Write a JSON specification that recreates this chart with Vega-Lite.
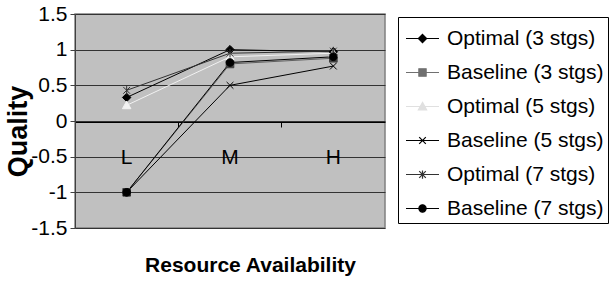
{
  "$schema": "https://vega.github.io/schema/vega-lite/v6.json",
  "width": 310,
  "height": 214,
  "autosize": "none",
  "padding": {"left": 75, "top": 14, "right": 228, "bottom": 54},
  "background": "white",
  "config": {
    "font": "Liberation Sans",
    "view": {"fill": "#c0c0c0", "stroke": "#808080", "strokeWidth": 1.5},
    "axis": {"labelFont": "Liberation Sans", "labelFontSize": 21, "labelColor": "black", "titleFont": "Liberation Sans", "titleFontSize": 21, "titleFontWeight": "bold", "titleColor": "black"}
  },
  "data": {
    "values": [
      {"series": "Optimal (3 stgs)", "level": "L", "quality": 0.33},
      {"series": "Optimal (3 stgs)", "level": "M", "quality": 1.0},
      {"series": "Optimal (3 stgs)", "level": "H", "quality": 0.97},
      {"series": "Baseline (3 stgs)", "level": "L", "quality": -1.0},
      {"series": "Baseline (3 stgs)", "level": "M", "quality": 0.8},
      {"series": "Baseline (3 stgs)", "level": "H", "quality": 0.88},
      {"series": "Optimal (5 stgs)", "level": "L", "quality": 0.22},
      {"series": "Optimal (5 stgs)", "level": "M", "quality": 0.9},
      {"series": "Optimal (5 stgs)", "level": "H", "quality": 0.95},
      {"series": "Baseline (5 stgs)", "level": "L", "quality": -1.0},
      {"series": "Baseline (5 stgs)", "level": "M", "quality": 0.5},
      {"series": "Baseline (5 stgs)", "level": "H", "quality": 0.77},
      {"series": "Optimal (7 stgs)", "level": "L", "quality": 0.43},
      {"series": "Optimal (7 stgs)", "level": "M", "quality": 0.95},
      {"series": "Optimal (7 stgs)", "level": "H", "quality": 0.98},
      {"series": "Baseline (7 stgs)", "level": "L", "quality": -1.0},
      {"series": "Baseline (7 stgs)", "level": "M", "quality": 0.82},
      {"series": "Baseline (7 stgs)", "level": "H", "quality": 0.9}
    ]
  },
  "layer": [
    {
      "mark": {"type": "line", "strokeWidth": 1},
      "encoding": {
        "x": {"field": "level", "type": "nominal", "sort": ["L", "M", "H"], "scale": {"type": "band", "paddingInner": 0, "paddingOuter": 0},
          "axis": {"orient": "bottom", "offset": -106, "domainColor": "black", "domainWidth": 1, "ticks": false, "labelPadding": 24, "labelAngle": 0, "grid": false, "title": "Resource Availability", "titleX": 175, "titleY": 149, "titleBaseline": "alphabetic", "titleAlign": "center"}},
        "y": {"field": "quality", "type": "quantitative", "scale": {"domain": [-1.5, 1.5], "nice": false, "zero": false},
          "axis": {"values": [-1.5, -1, -0.5, 0, 0.5, 1, 1.5], "labelExpr": "datum.value + ''", "grid": true, "gridColor": "#333333", "gridWidth": 1, "gridOpacity": 1, "domainColor": "#404040", "tickColor": "#404040", "tickSize": 5, "labelPadding": 3, "title": "Quality", "titleFontSize": 27, "titleAngle": 270, "titleX": -57, "titleY": 117, "titleAlign": "center", "titleBaseline": "middle"}},
        "stroke": {"field": "series", "type": "nominal",
          "scale": {"domain": ["Optimal (3 stgs)", "Baseline (3 stgs)", "Optimal (5 stgs)", "Baseline (5 stgs)", "Optimal (7 stgs)", "Baseline (7 stgs)"], "range": ["#000000", "#606060", "#f2f2f2", "#000000", "#333333", "#000000"]},
          "legend": null}
      }
    },
    {
      "mark": {"type": "point", "filled": true, "size": 72, "strokeWidth": 1, "opacity": 1},
      "encoding": {
        "x": {"field": "level", "type": "nominal", "sort": ["L", "M", "H"], "scale": {"type": "band", "paddingInner": 0, "paddingOuter": 0},
          "axis": {"orient": "bottom", "offset": -106, "bandPosition": 0, "labels": false, "domain": false, "ticks": true, "tickSize": 5, "tickColor": "black", "grid": false, "title": null}},
        "y": {"field": "quality", "type": "quantitative", "scale": {"domain": [-1.5, 1.5], "nice": false, "zero": false},
          "axis": {"values": [-1.5, -1, -0.5, 0, 0.5, 1, 1.5], "labelExpr": "datum.value + ''", "grid": true, "gridColor": "#333333", "gridWidth": 1, "gridOpacity": 1, "domainColor": "#404040", "tickColor": "#404040", "tickSize": 5, "labelPadding": 3, "title": "Quality", "titleFontSize": 27, "titleAngle": 270, "titleX": -57, "titleY": 117, "titleAlign": "center", "titleBaseline": "middle"}},
        "shape": {"field": "series", "type": "nominal",
          "scale": {"domain": ["Optimal (3 stgs)", "Baseline (3 stgs)", "Optimal (5 stgs)", "Baseline (5 stgs)", "Optimal (7 stgs)", "Baseline (7 stgs)"],
            "range": ["M0,-1L1,0L0,1L-1,0Z", "M-0.9,-0.9H0.9V0.9H-0.9Z", "M0,-1L1,0.8H-1Z", "M-0.8,-0.8L0.8,0.8M-0.8,0.8L0.8,-0.8", "M-0.8,-0.8L0.8,0.8M-0.8,0.8L0.8,-0.8M0,-1V1", "M0.9,0A0.9,0.9,0,1,1,-0.9,0A0.9,0.9,0,1,1,0.9,0Z"]},
          "legend": null},
        "fill": {"field": "series", "type": "nominal",
          "scale": {"domain": ["Optimal (3 stgs)", "Baseline (3 stgs)", "Optimal (5 stgs)", "Baseline (5 stgs)", "Optimal (7 stgs)", "Baseline (7 stgs)"], "range": ["#000000", "#404040", "#f2f2f2", "#000000", "#333333", "#000000"]},
          "legend": null},
        "stroke": {"field": "series", "type": "nominal",
          "scale": {"domain": ["Optimal (3 stgs)", "Baseline (3 stgs)", "Optimal (5 stgs)", "Baseline (5 stgs)", "Optimal (7 stgs)", "Baseline (7 stgs)"], "range": ["#000000", "#404040", "#f2f2f2", "#000000", "#333333", "#000000"]},
          "legend": null}
      }
    },
    {
      "transform": [{"filter": {"field": "series", "equal": "__none__"}}],
      "mark": {"type": "point", "filled": true, "strokeWidth": 1, "opacity": 1},
      "encoding": {
        "x": {"field": "level", "type": "nominal", "sort": ["L", "M", "H"], "scale": {"type": "band", "paddingInner": 0, "paddingOuter": 0}, "axis": null},
        "y": {"field": "quality", "type": "quantitative", "scale": {"domain": [-1.5, 1.5], "nice": false, "zero": false},
          "axis": {"values": [-1.5, -1, -0.5, 0, 0.5, 1, 1.5], "labelExpr": "datum.value + ''", "grid": true, "gridColor": "#333333", "gridWidth": 1, "gridOpacity": 1, "domainColor": "#404040", "tickColor": "#404040", "tickSize": 5, "labelPadding": 3, "title": "Quality", "titleFontSize": 27, "titleAngle": 270, "titleX": -57, "titleY": 117, "titleAlign": "center", "titleBaseline": "middle"}},
        "shape": {"field": "series", "type": "nominal",
          "scale": {"domain": ["Optimal (3 stgs)", "Baseline (3 stgs)", "Optimal (5 stgs)", "Baseline (5 stgs)", "Optimal (7 stgs)", "Baseline (7 stgs)"],
            "range": ["M-1,0H1M0,-0.25L0.25,0L0,0.25L-0.25,0Z", "M-1,0H1M-0.22,-0.22H0.22V0.22H-0.22Z", "M-1,0H1M0,-0.25L0.25,0.2H-0.25Z", "M-1,0H1M-0.2,-0.2L0.2,0.2M-0.2,0.2L0.2,-0.2", "M-1,0H1M-0.2,-0.2L0.2,0.2M-0.2,0.2L0.2,-0.2M0,-0.25V0.25", "M-1,0H1M0.22,0A0.22,0.22,0,1,1,-0.22,0A0.22,0.22,0,1,1,0.22,0Z"]},
          "legend": {"title": null, "orient": "none", "legendX": 323, "legendY": 3, "padding": 4, "strokeColor": "black", "fillColor": "white", "symbolSize": 1089, "symbolOffset": 3, "symbolStrokeWidth": 1.2, "symbolOpacity": 1, "labelFont": "Liberation Sans", "labelFontSize": 21, "labelColor": "black", "labelOffset": 7, "rowPadding": 6, "labelLimit": 300}},
        "fill": {"field": "series", "type": "nominal",
          "scale": {"domain": ["Optimal (3 stgs)", "Baseline (3 stgs)", "Optimal (5 stgs)", "Baseline (5 stgs)", "Optimal (7 stgs)", "Baseline (7 stgs)"], "range": ["#000000", "#707070", "#e0e0e0", "#000000", "#333333", "#000000"]},
          "legend": {"title": null, "orient": "none", "legendX": 323, "legendY": 3, "padding": 4, "strokeColor": "black", "fillColor": "white", "symbolSize": 1089, "symbolOffset": 3, "symbolStrokeWidth": 1.2, "symbolOpacity": 1, "labelFont": "Liberation Sans", "labelFontSize": 21, "labelColor": "black", "labelOffset": 7, "rowPadding": 6, "labelLimit": 300}},
        "stroke": {"field": "series", "type": "nominal",
          "scale": {"domain": ["Optimal (3 stgs)", "Baseline (3 stgs)", "Optimal (5 stgs)", "Baseline (5 stgs)", "Optimal (7 stgs)", "Baseline (7 stgs)"], "range": ["#000000", "#707070", "#e0e0e0", "#000000", "#333333", "#000000"]},
          "legend": {"title": null, "orient": "none", "legendX": 323, "legendY": 3, "padding": 4, "strokeColor": "black", "fillColor": "white", "symbolSize": 1089, "symbolOffset": 3, "symbolStrokeWidth": 1.2, "symbolOpacity": 1, "labelFont": "Liberation Sans", "labelFontSize": 21, "labelColor": "black", "labelOffset": 7, "rowPadding": 6, "labelLimit": 300}}
      }
    }
  ],
  "resolve": {
    "scale": {"stroke": "independent", "fill": "independent", "shape": "independent"},
    "axis": {"x": "independent"}
  }
}
